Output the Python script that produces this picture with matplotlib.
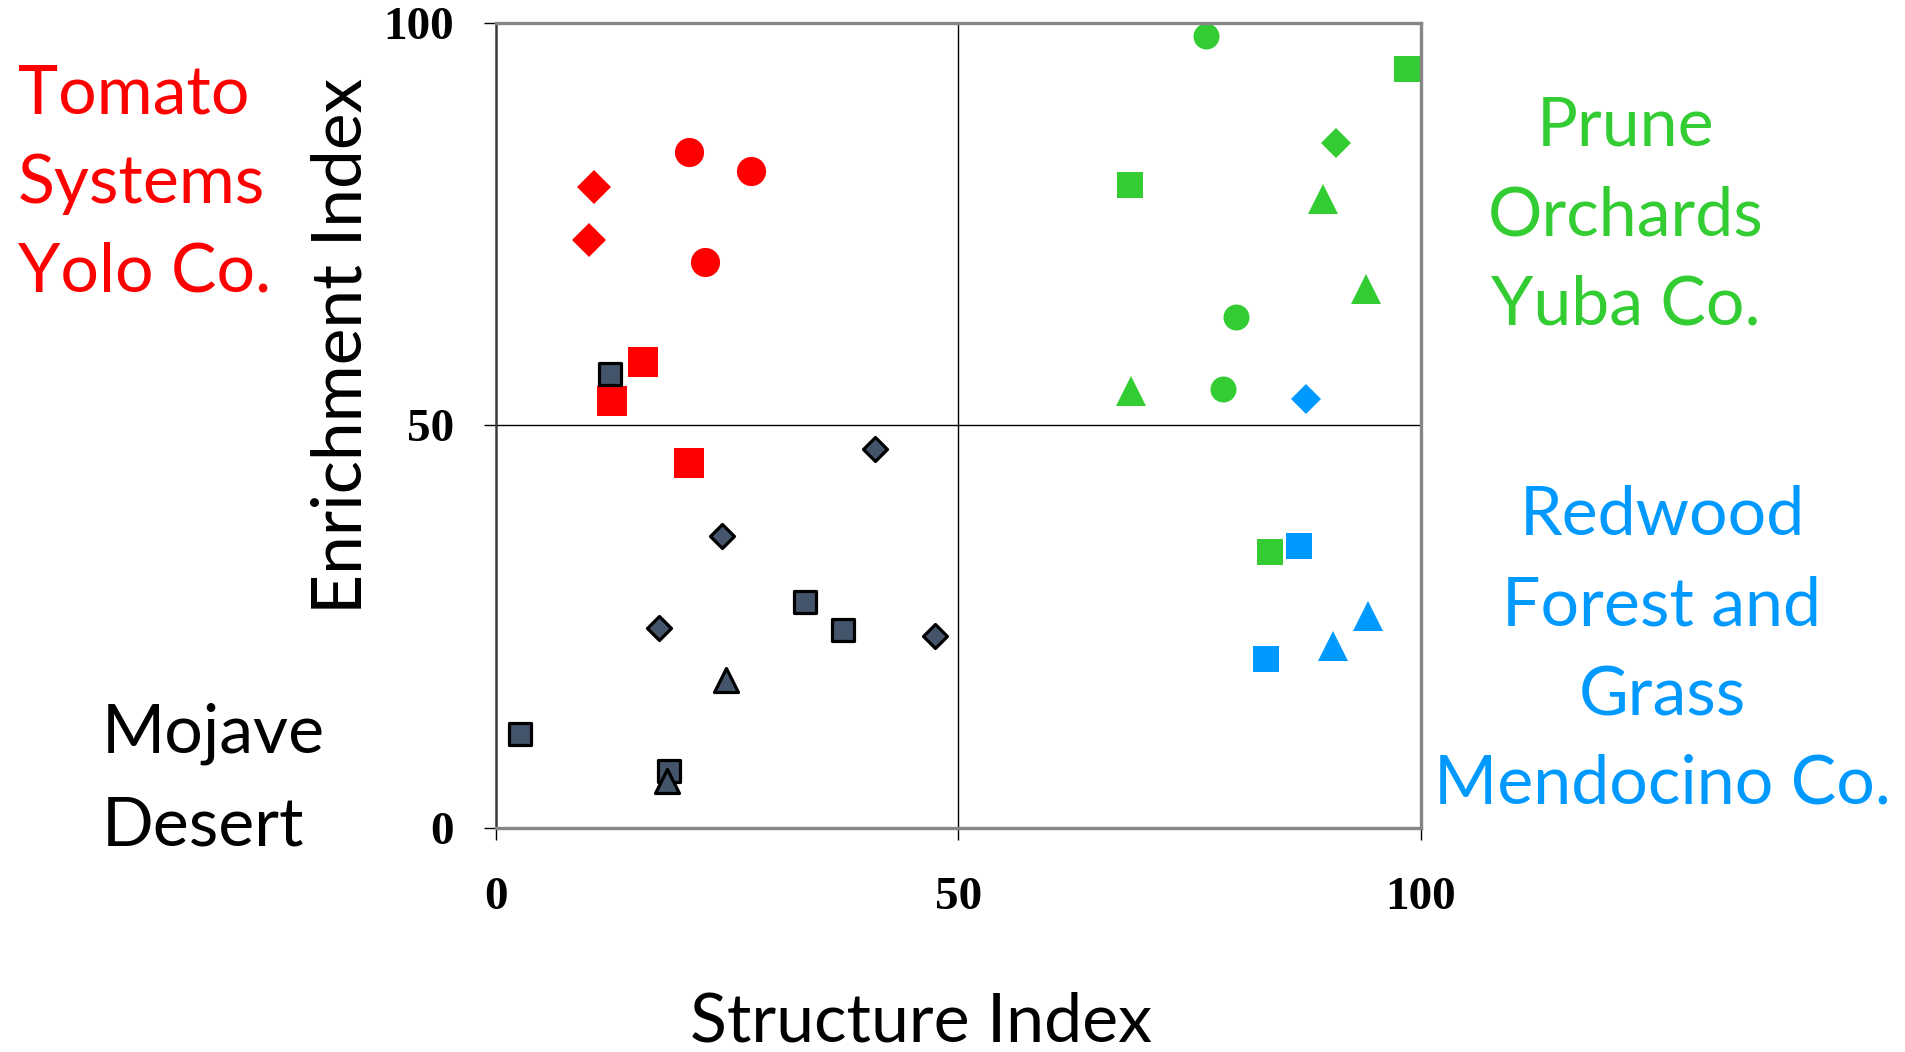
import matplotlib
matplotlib.use("Agg")
import matplotlib.pyplot as plt
from matplotlib.markers import MarkerStyle

# Tomato systems, Yolo Co. (red)
tomato_circle_x = [20.9, 27.6, 22.6]
tomato_circle_y = [84.0, 81.6, 70.3]
tomato_diamond_x = [10.6, 10.1]
tomato_diamond_y = [79.6, 73.0]
tomato_square_x = [15.9, 12.6, 20.9]
tomato_square_y = [57.8, 53.0, 45.3]

# Prune orchards, Yuba Co. (green)
prune_circle_x = [76.8, 80.0, 78.6]
prune_circle_y = [98.3, 63.5, 54.5]
prune_square_x = [98.5, 68.5, 83.7]
prune_square_y = [94.2, 79.9, 34.3]
prune_diamond_x = [90.8]
prune_diamond_y = [85.0]
prune_triangle_x = [89.4, 94.1, 68.7]
prune_triangle_y = [78.1, 66.9, 54.2]

# Redwood forest and grass, Mendocino Co. (blue)
redwood_diamond_x = [87.6]
redwood_diamond_y = [53.2]
redwood_square_x = [86.8, 83.3]
redwood_square_y = [35.0, 20.9]
redwood_triangle_x = [94.3, 90.5]
redwood_triangle_y = [26.3, 22.6]

# Mojave desert (slate, black edge)
mojave_square_x = [12.3, 33.4, 37.5, 2.6, 18.7]
mojave_square_y = [56.4, 28.0, 24.5, 11.6, 7.1]
mojave_diamond_x = [41.0, 24.5, 17.6, 47.5]
mojave_diamond_y = [47.1, 36.2, 24.8, 23.8]
mojave_triangle_x = [24.9, 18.5]
mojave_triangle_y = [18.3, 5.8]

ticks = [0, 50, 100]

RED = "#FF0000"
GREEN = "#33CC33"
BLUE = "#0099FF"
SLATE = "#44546A"

W, H = 1905, 1052
fig = plt.figure(figsize=(W / 100, H / 100), dpi=100)
ax = fig.add_axes([495.7 / W, 1 - 827.7 / H, (1421 - 495.7) / W, (827.7 - 22.7) / H])


def fx(px):
    return px / W


def fy(py):
    return 1 - py / H


def solid(x, y, marker, color, size):
    ax.plot(x, y, ls="none", marker=marker, ms=size, mfc=color, mec=color,
            mew=0, clip_on=False, zorder=3)


def outlined(x, y, marker, size):
    ax.plot(x, y, ls="none", marker=MarkerStyle(marker, joinstyle="round"),
            ms=size, mfc=SLATE, mec="black", mew=2.3, clip_on=False, zorder=4)


ax.set_xlim(0, 100)
ax.set_ylim(0, 100)
ax.axvline(50, color="black", lw=1.0, zorder=1)
ax.axhline(50, color="black", lw=1.0, zorder=1)

solid(tomato_circle_x, tomato_circle_y, "o", RED, 21)
solid(tomato_diamond_x, tomato_diamond_y, "D", RED, 17.3)
solid(tomato_square_x, tomato_square_y, "s", RED, 21)

solid(prune_circle_x, prune_circle_y, "o", GREEN, 18.7)
solid(prune_square_x, prune_square_y, "s", GREEN, 19.4)
solid(prune_diamond_x, prune_diamond_y, "D", GREEN, 15.6)
solid(prune_triangle_x, prune_triangle_y, "^", GREEN, 22)

solid(redwood_diamond_x, redwood_diamond_y, "D", BLUE, 15.3)
solid(redwood_square_x, redwood_square_y, "s", BLUE, 18.7)
solid(redwood_triangle_x, redwood_triangle_y, "^", BLUE, 21.5)

outlined(mojave_square_x, mojave_square_y, "s", 15.8)
outlined(mojave_diamond_x, mojave_diamond_y, "D", 12.6)
outlined(mojave_triangle_x, mojave_triangle_y, "^", 17.5)

# axes frame
for side in ["top", "right", "bottom"]:
    ax.spines[side].set_color("#868686")
    ax.spines[side].set_linewidth(2.4)
ax.spines["left"].set_color("#3a3a3a")
ax.spines["left"].set_linewidth(1.8)
for s in ax.spines.values():
    s.set_zorder(5)

ax.set_xticks(ticks)
ax.set_yticks(ticks)
tick_font = {"family": "Liberation Serif", "weight": "bold", "size": 34}
ax.set_xticklabels([str(t) for t in ticks], fontdict=tick_font)
ax.set_yticklabels([str(t) for t in ticks], fontdict=tick_font)
ax.tick_params(axis="both", direction="out", length=8.6, width=1.0, color="black")
ax.tick_params(axis="x", pad=27)
ax.tick_params(axis="y", pad=21.6)

sans = "Lato"
size = 49

# region labels, one line at a time
for txt, py in zip(["Tomato", "Systems", "Yolo Co."], [114, 203, 291.7]):
    fig.text(fx(18), fy(py), txt, color=RED, family=sans, size=size,
             ha="left", va="baseline")
for txt, py in zip(["Prune", "Orchards", "Yuba Co."], [145.7, 235, 324.3]):
    fig.text(fx(1626), fy(py), txt, color=GREEN, family=sans, size=size,
             ha="center", va="baseline")
for txt, py in zip(["Redwood", "Forest and", "Grass", "Mendocino Co."],
                   [535, 625, 715, 803.3]):
    fig.text(fx(1662), fy(py), txt, color=BLUE, family=sans, size=size,
             ha="center", va="baseline")
for txt, py in zip(["Mojave", "Desert"], [752.7, 845]):
    fig.text(fx(101.7), fy(py), txt, color="black", family=sans, size=size,
             ha="left", va="baseline")

fig.text(fx(921), fy(1041), "Structure Index", color="black", family=sans,
         size=size, ha="center", va="baseline")
fig.text(fx(361.7), fy(346), "Enrichment Index", color="black", family=sans,
         size=50, ha="center", va="baseline", rotation=90,
         rotation_mode="anchor")

fig.savefig("out.png", dpi=100, facecolor="white")
